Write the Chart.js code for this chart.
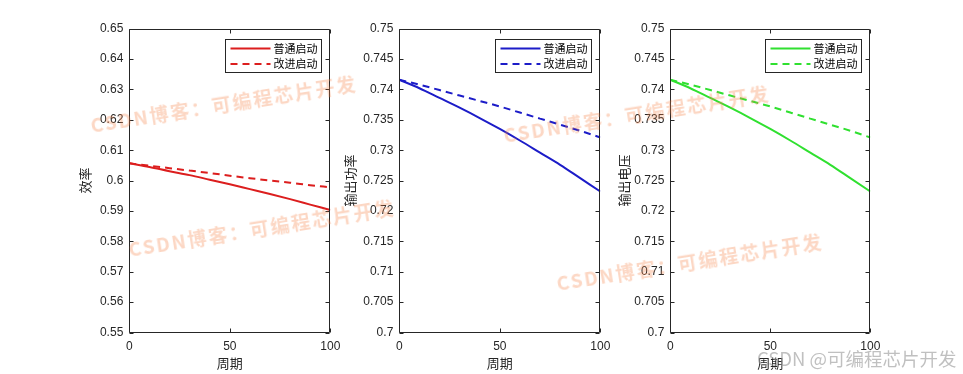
<!DOCTYPE html>
<html>
<head>
<meta charset="utf-8">
<script src="https://cdn.jsdelivr.net/npm/chart.js@4/dist/chart.umd.min.js"></script>
<style>
  html, body { margin: 0; padding: 0; background: #ffffff; }
  body { width: 963px; height: 374px; overflow: hidden; position: relative; }
  canvas { position: absolute; left: 0; top: 0; }
  .wm { position: absolute; white-space: nowrap; line-height: 19px; height: 19px;
        font: bold 19px "Noto Sans CJK SC", sans-serif; letter-spacing: 2px;
        color: rgba(245, 130, 70, 0.32); transform-origin: 0 50%; transform: rotate(-9deg);
        pointer-events: none; }
  .wm2 { position: absolute; white-space: nowrap; line-height: 19px; height: 19px;
         font: 18.5px "Noto Sans CJK SC", sans-serif; color: rgba(150, 150, 150, 0.6);
         pointer-events: none; }
</style>
</head>
<body>
<canvas id="c1" width="963" height="374"></canvas>
<canvas id="c2" width="963" height="374"></canvas>
<canvas id="c3" width="963" height="374"></canvas>

<div class="wm" style="left:90px; top:111px;">CSDN博客：可编程芯片开发</div>
<div class="wm" style="left:128px; top:235px;">CSDN博客：可编程芯片开发</div>
<div class="wm" style="left:503px; top:121px;">CSDN博客：可编程芯片开发</div>
<div class="wm" style="left:556px; top:269px;">CSDN博客：可编程芯片开发</div>
<div class="wm2" style="left:757px; top:345px;">CSDN @可编程芯片开发</div>

<script>
// ---------------- data ----------------
const seriesNames = ['普通启动', '改进启动'];
const periods = [0, 10, 20, 30, 40, 50, 60, 70, 80, 90, 100];

const effNormal   = [0.6057, 0.6045, 0.6031, 0.6018, 0.6003, 0.5988, 0.5972, 0.5956, 0.5939, 0.5921, 0.5903];
const effImproved = [0.6057, 0.6049, 0.6041, 0.6033, 0.6025, 0.6016, 0.6008, 0.6000, 0.5993, 0.5985, 0.5978];

const powNormal   = [0.7416, 0.7402, 0.7386, 0.7370, 0.7353, 0.7335, 0.7316, 0.7296, 0.7276, 0.7254, 0.7232];
const powImproved = [0.7416, 0.7408, 0.7399, 0.7390, 0.7381, 0.7372, 0.7362, 0.7352, 0.7342, 0.7332, 0.7321];

const voltNormal   = [0.7416, 0.7402, 0.7386, 0.7370, 0.7353, 0.7335, 0.7316, 0.7296, 0.7276, 0.7254, 0.7232];
const voltImproved = [0.7416, 0.7408, 0.7399, 0.7390, 0.7381, 0.7372, 0.7362, 0.7352, 0.7342, 0.7332, 0.7321];

const xTicks = [0, 50, 100];
const effTicks = [0.55, 0.56, 0.57, 0.58, 0.59, 0.60, 0.61, 0.62, 0.63, 0.64, 0.65];
const effTickLabels = ['0.55', '0.56', '0.57', '0.58', '0.59', '0.6', '0.61', '0.62', '0.63', '0.64', '0.65'];
const powTicks = [0.70, 0.705, 0.71, 0.715, 0.72, 0.725, 0.73, 0.735, 0.74, 0.745, 0.75];
const powTickLabels = ['0.7', '0.705', '0.71', '0.715', '0.72', '0.725', '0.73', '0.735', '0.74', '0.745', '0.75'];

const xTitle = '周期';
const yTitles = ['效率', '输出功率', '输出电压'];

// ---------------- styling ----------------
const AXIS = '#262626';
const TICK_FONT = { family: '"Liberation Sans", Arial, sans-serif', size: 12 };
const CJK = '"Noto Sans CJK SC", sans-serif';

const boxPlugin = {
  id: 'matlabBox',
  afterDatasetsDraw(chart) {
    const { ctx, chartArea: a, scales } = chart;
    const L = Math.round(a.left) + 0.5, R = Math.round(a.right) - 0.5;
    const T = Math.round(a.top) + 0.5, B = Math.round(a.bottom) - 0.5;
    ctx.save();
    ctx.strokeStyle = AXIS;
    ctx.lineWidth = 1;
    ctx.beginPath();
    ctx.rect(L, T, R - L, B - T);
    const tl = 4;
    scales.y.ticks.forEach(t => {
      const y = Math.round(scales.y.getPixelForValue(t.value)) + 0.5;
      ctx.moveTo(L, y); ctx.lineTo(L + tl, y);
      ctx.moveTo(R, y); ctx.lineTo(R - tl, y);
    });
    scales.x.ticks.forEach(t => {
      const x = Math.round(scales.x.getPixelForValue(t.value)) + 0.5;
      ctx.moveTo(x, B); ctx.lineTo(x, B - tl);
      ctx.moveTo(x, T); ctx.lineTo(x, T + tl);
    });
    ctx.stroke();

    // legend box (MATLAB style, top-right inside the axes)
    const bx = Math.round(a.right - 105) + 0.5, by = Math.round(a.top + 10.6) + 0.5;
    const bw = 96, bh = 33;
    ctx.fillStyle = '#ffffff';
    ctx.fillRect(bx, by, bw, bh);
    ctx.strokeRect(bx, by, bw, bh);
    chart.data.datasets.forEach((ds, i) => {
      const cy = by + 9 + i * 15.5;
      ctx.beginPath();
      ctx.strokeStyle = ds.borderColor;
      ctx.lineWidth = ds.borderWidth;
      ctx.setLineDash(ds.borderDash || []);
      ctx.moveTo(bx + 5, cy); ctx.lineTo(bx + 45, cy);
      ctx.stroke();
      ctx.setLineDash([]);
      ctx.fillStyle = '#000000';
      ctx.font = '11px ' + CJK;
      ctx.textBaseline = 'middle';
      ctx.textAlign = 'left';
      ctx.fillText(ds.label, bx + 48, cy);
    });
    ctx.restore();
  }
};

function makeChart(id, color, normal, improved, yTickVals, yTickLabels, yTitle, pad, yWidth) {
  const ymin = yTickVals[0], ymax = yTickVals[yTickVals.length - 1];
  new Chart(document.getElementById(id), {
    type: 'line',
    data: {
      datasets: [
        { label: seriesNames[0], data: periods.map((p, i) => ({ x: p, y: normal[i] })),
          borderColor: color, borderWidth: 2, pointRadius: 0, cubicInterpolationMode: 'monotone', fill: false },
        { label: seriesNames[1], data: periods.map((p, i) => ({ x: p, y: improved[i] })),
          borderColor: color, borderWidth: 2, borderDash: [7, 5], pointRadius: 0, cubicInterpolationMode: 'monotone', fill: false }
      ]
    },
    options: {
      responsive: false,
      animation: false,
      devicePixelRatio: 1,
      layout: { padding: pad },
      plugins: { legend: { display: false }, tooltip: { enabled: false } },
      scales: {
        x: {
          type: 'linear', min: 0, max: 100,
          afterBuildTicks: s => { s.ticks = xTicks.map(v => ({ value: v })); },
          ticks: { color: AXIS, font: TICK_FONT, padding: 7, maxRotation: 0 },
          grid: { display: false, drawTicks: false },
          border: { display: false },
          title: { display: true, text: xTitle, color: AXIS, font: { family: CJK, size: 13 },
                   padding: { top: 0, bottom: 2.7 } },
          afterFit: s => { s.height = 41.5; }
        },
        y: {
          type: 'linear', min: ymin, max: ymax,
          afterBuildTicks: s => { s.ticks = yTickVals.map(v => ({ value: v })); },
          ticks: { color: AXIS, font: TICK_FONT, padding: 6,
                   callback: (v) => { const k = yTickVals.findIndex(t => Math.abs(t - v) < 1e-9); return k >= 0 ? yTickLabels[k] : ''; } },
          grid: { display: false, drawTicks: false },
          border: { display: false },
          title: { display: true, text: yTitle, color: AXIS, font: { family: CJK, size: 13 },
                   padding: { top: 0, bottom: 0 } },
          afterFit: s => { s.width = yWidth; }
        }
      }
    },
    plugins: [boxPlugin]
  });
}

makeChart('c1', '#dc1e1e', effNormal, effImproved, effTicks, effTickLabels, yTitles[0],
          { left: 77.2, right: 632.7, top: 28.7, bottom: 0 }, 52.1);
makeChart('c2', '#1c1cc8', powNormal, powImproved, powTicks, powTickLabels, yTitles[1],
          { left: 342.2, right: 362.7, top: 28.7, bottom: 0 }, 57.1);
makeChart('c3', '#30e030', voltNormal, voltImproved, powTicks, powTickLabels, yTitles[2],
          { left: 616.2, right: 92.7, top: 28.7, bottom: 0 }, 54.1);
</script>
</body>
</html>
